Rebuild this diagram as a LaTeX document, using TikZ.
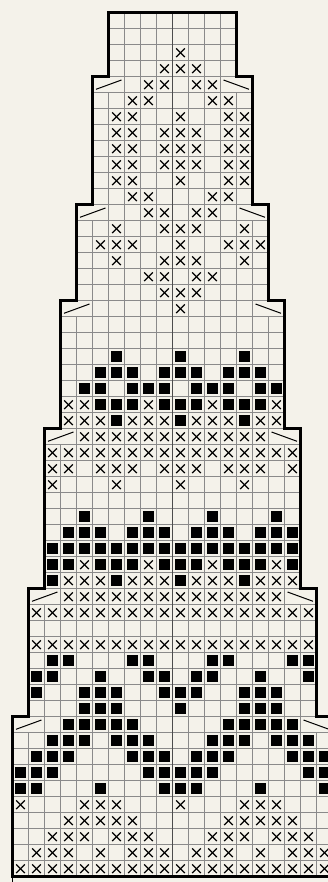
\documentclass[tikz,border=0pt]{standalone}
\begin{document}
\begin{tikzpicture}[x=1pt,y=-1pt,
  gridline/.style={draw=gridc,line width=0.9pt},
  centreline/.style={draw=black!70,line width=1.1pt},
  xmark/.style={draw=black,line width=1.3pt},
  fillmark/.style={fill=black},
  slashmark/.style={draw=black,line width=1pt},
  border/.style={draw=black,line width=2.5pt,line join=miter}]
\definecolor{bg}{HTML}{F4F2EA}
\definecolor{gridc}{HTML}{8A8A8A}
\useasboundingbox (0,0) rectangle (328,882);
\fill[bg] (0,0) rectangle (328,882);
\clip (0,0) rectangle (328,882);
% block grids: r0 r1 c0 c1 (boundary indices), merged corner cells in top row
\newcommand\chartblock[4]{%
  \foreach \r in {#1,...,#2} {\draw[gridline] ({12.5+16*#3},{12.7+16*\r}) -- ({12.5+16*#4},{12.7+16*\r});}
  \pgfmathtruncatemacro\bkA{#3+1}
  \pgfmathtruncatemacro\bkB{#3+2}
  \pgfmathtruncatemacro\bkC{#4-2}
  \pgfmathtruncatemacro\bkD{#4-1}
  \pgfmathtruncatemacro\bkR{#1+1}
  \foreach \c in {\bkB,...,\bkC} {\draw[gridline] ({12.5+16*\c},{12.7+16*#1}) -- ({12.5+16*\c},{12.7+16*#2});}
  \foreach \c in {\bkA,\bkD} {\draw[gridline] ({12.5+16*\c},{12.7+16*\bkR}) -- ({12.5+16*\c},{12.7+16*#2});}
  \draw[slashmark] ({12.5+16*#3+3.5},{12.7+16*#1+12.6}) -- ({12.5+16*#3+29},{12.7+16*#1+3.3});
  \draw[slashmark] ({12.5+16*#4-29},{12.7+16*#1+3.3}) -- ({12.5+16*#4-3.5},{12.7+16*#1+12.6});
}
% block 1
\foreach \r in {0,...,4} {\draw[gridline] (108.5,{12.7+16*\r}) -- (236.5,{12.7+16*\r});}
\foreach \c in {7,...,13} {\draw[gridline] ({12.5+16*\c},12.7) -- ({12.5+16*\c},76.7);}
\chartblock{4}{12}{5}{15}
\chartblock{12}{18}{4}{16}
\chartblock{18}{26}{3}{17}
\chartblock{26}{36}{2}{18}
\chartblock{36}{44}{1}{19}
\chartblock{44}{54}{0}{20}
% centre line
\draw[centreline] (172.5,12.7) -- (172.5,876.7);
% crosses
\foreach \r/\cs in {2/{10},3/{9,10,11},4/{8,9,11,12},5/{7,8,12,13},6/{6,7,10,13,14},
  7/{6,7,9,10,11,13,14},8/{6,7,9,10,11,13,14},9/{6,7,9,10,11,13,14},10/{6,7,10,13,14},
  11/{7,8,12,13},12/{8,9,11,12},13/{6,9,10,11,14},14/{5,6,7,10,13,14,15},15/{6,9,10,11,14},
  16/{8,9,11,12},17/{9,10,11},18/{10},
  24/{3,4,8,12,16},25/{3,4,5,7,8,9,11,12,13,15,16},26/{4,...,15},27/{2,...,17},
  28/{2,3,5,6,7,9,10,11,13,14,15,17},29/{2,6,10,14},
  34/{4,8,12,16},35/{3,4,5,7,8,9,11,12,13,15,16,17},36/{3,...,16},37/{1,...,18},39/{1,...,18},
  49/{0,4,5,6,10,14,15,16},50/{3,4,5,6,7,13,14,15,16,17},
  51/{2,3,4,6,7,8,12,13,14,16,17,18},52/{1,2,3,5,7,8,9,11,12,13,15,17,18,19},53/{0,...,19}}
{\foreach \c in \cs {
  \draw[xmark] ({20.5+16*\c-4.3},{20.7+16*\r-4.3}) -- ({20.5+16*\c+4.3},{20.7+16*\r+4.3});
  \draw[xmark] ({20.5+16*\c-4.3},{20.7+16*\r+4.3}) -- ({20.5+16*\c+4.3},{20.7+16*\r-4.3});
}}
% filled squares
\foreach \r/\cs in {21/{6,10,14},22/{5,6,7,9,10,11,13,14,15},23/{4,5,7,8,9,11,12,13,15,16},
  24/{5,6,7,9,10,11,13,14,15},25/{6,10,14},
  31/{4,8,12,16},32/{3,4,5,7,8,9,11,12,13,15,16,17},33/{2,...,17},
  34/{2,3,5,6,7,9,10,11,13,14,15,17},35/{2,6,10,14},
  40/{2,3,7,8,12,13,17,18},41/{1,2,5,8,9,11,12,15,18},42/{1,4,5,6,9,10,11,14,15,16},
  43/{4,5,6,10,14,15,16},44/{3,4,5,6,7,13,14,15,16,17},45/{2,3,4,6,7,8,12,13,14,16,17,18},
  46/{1,2,3,7,8,9,11,12,13,17,18,19},47/{0,1,2,8,9,10,11,12,18,19},48/{0,1,5,9,10,11,15,19}}
{\foreach \c in \cs {
  \fill[fillmark] ({20.5+16*\c-5.4},{20.7+16*\r-5.4}) rectangle ({20.5+16*\c+5.4},{20.7+16*\r+5.4});
}}
% outline
\draw[border] (12.5,876.7) -- (12.5,716.7) -- (28.5,716.7) -- (28.5,588.7) -- (44.5,588.7)
  -- (44.5,428.7) -- (60.5,428.7) -- (60.5,300.7) -- (76.5,300.7) -- (76.5,204.7)
  -- (92.5,204.7) -- (92.5,76.7) -- (108.5,76.7) -- (108.5,12.7) -- (236.5,12.7)
  -- (236.5,76.7) -- (252.5,76.7) -- (252.5,204.7) -- (268.5,204.7) -- (268.5,300.7)
  -- (284.5,300.7) -- (284.5,428.7) -- (300.5,428.7) -- (300.5,588.7) -- (316.5,588.7)
  -- (316.5,716.7) -- (332.5,716.7) -- (332.5,876.7) -- cycle;
\draw[draw=black,line width=1pt] (12.7,876.7) -- (12.7,882);
\end{tikzpicture}
\end{document}
